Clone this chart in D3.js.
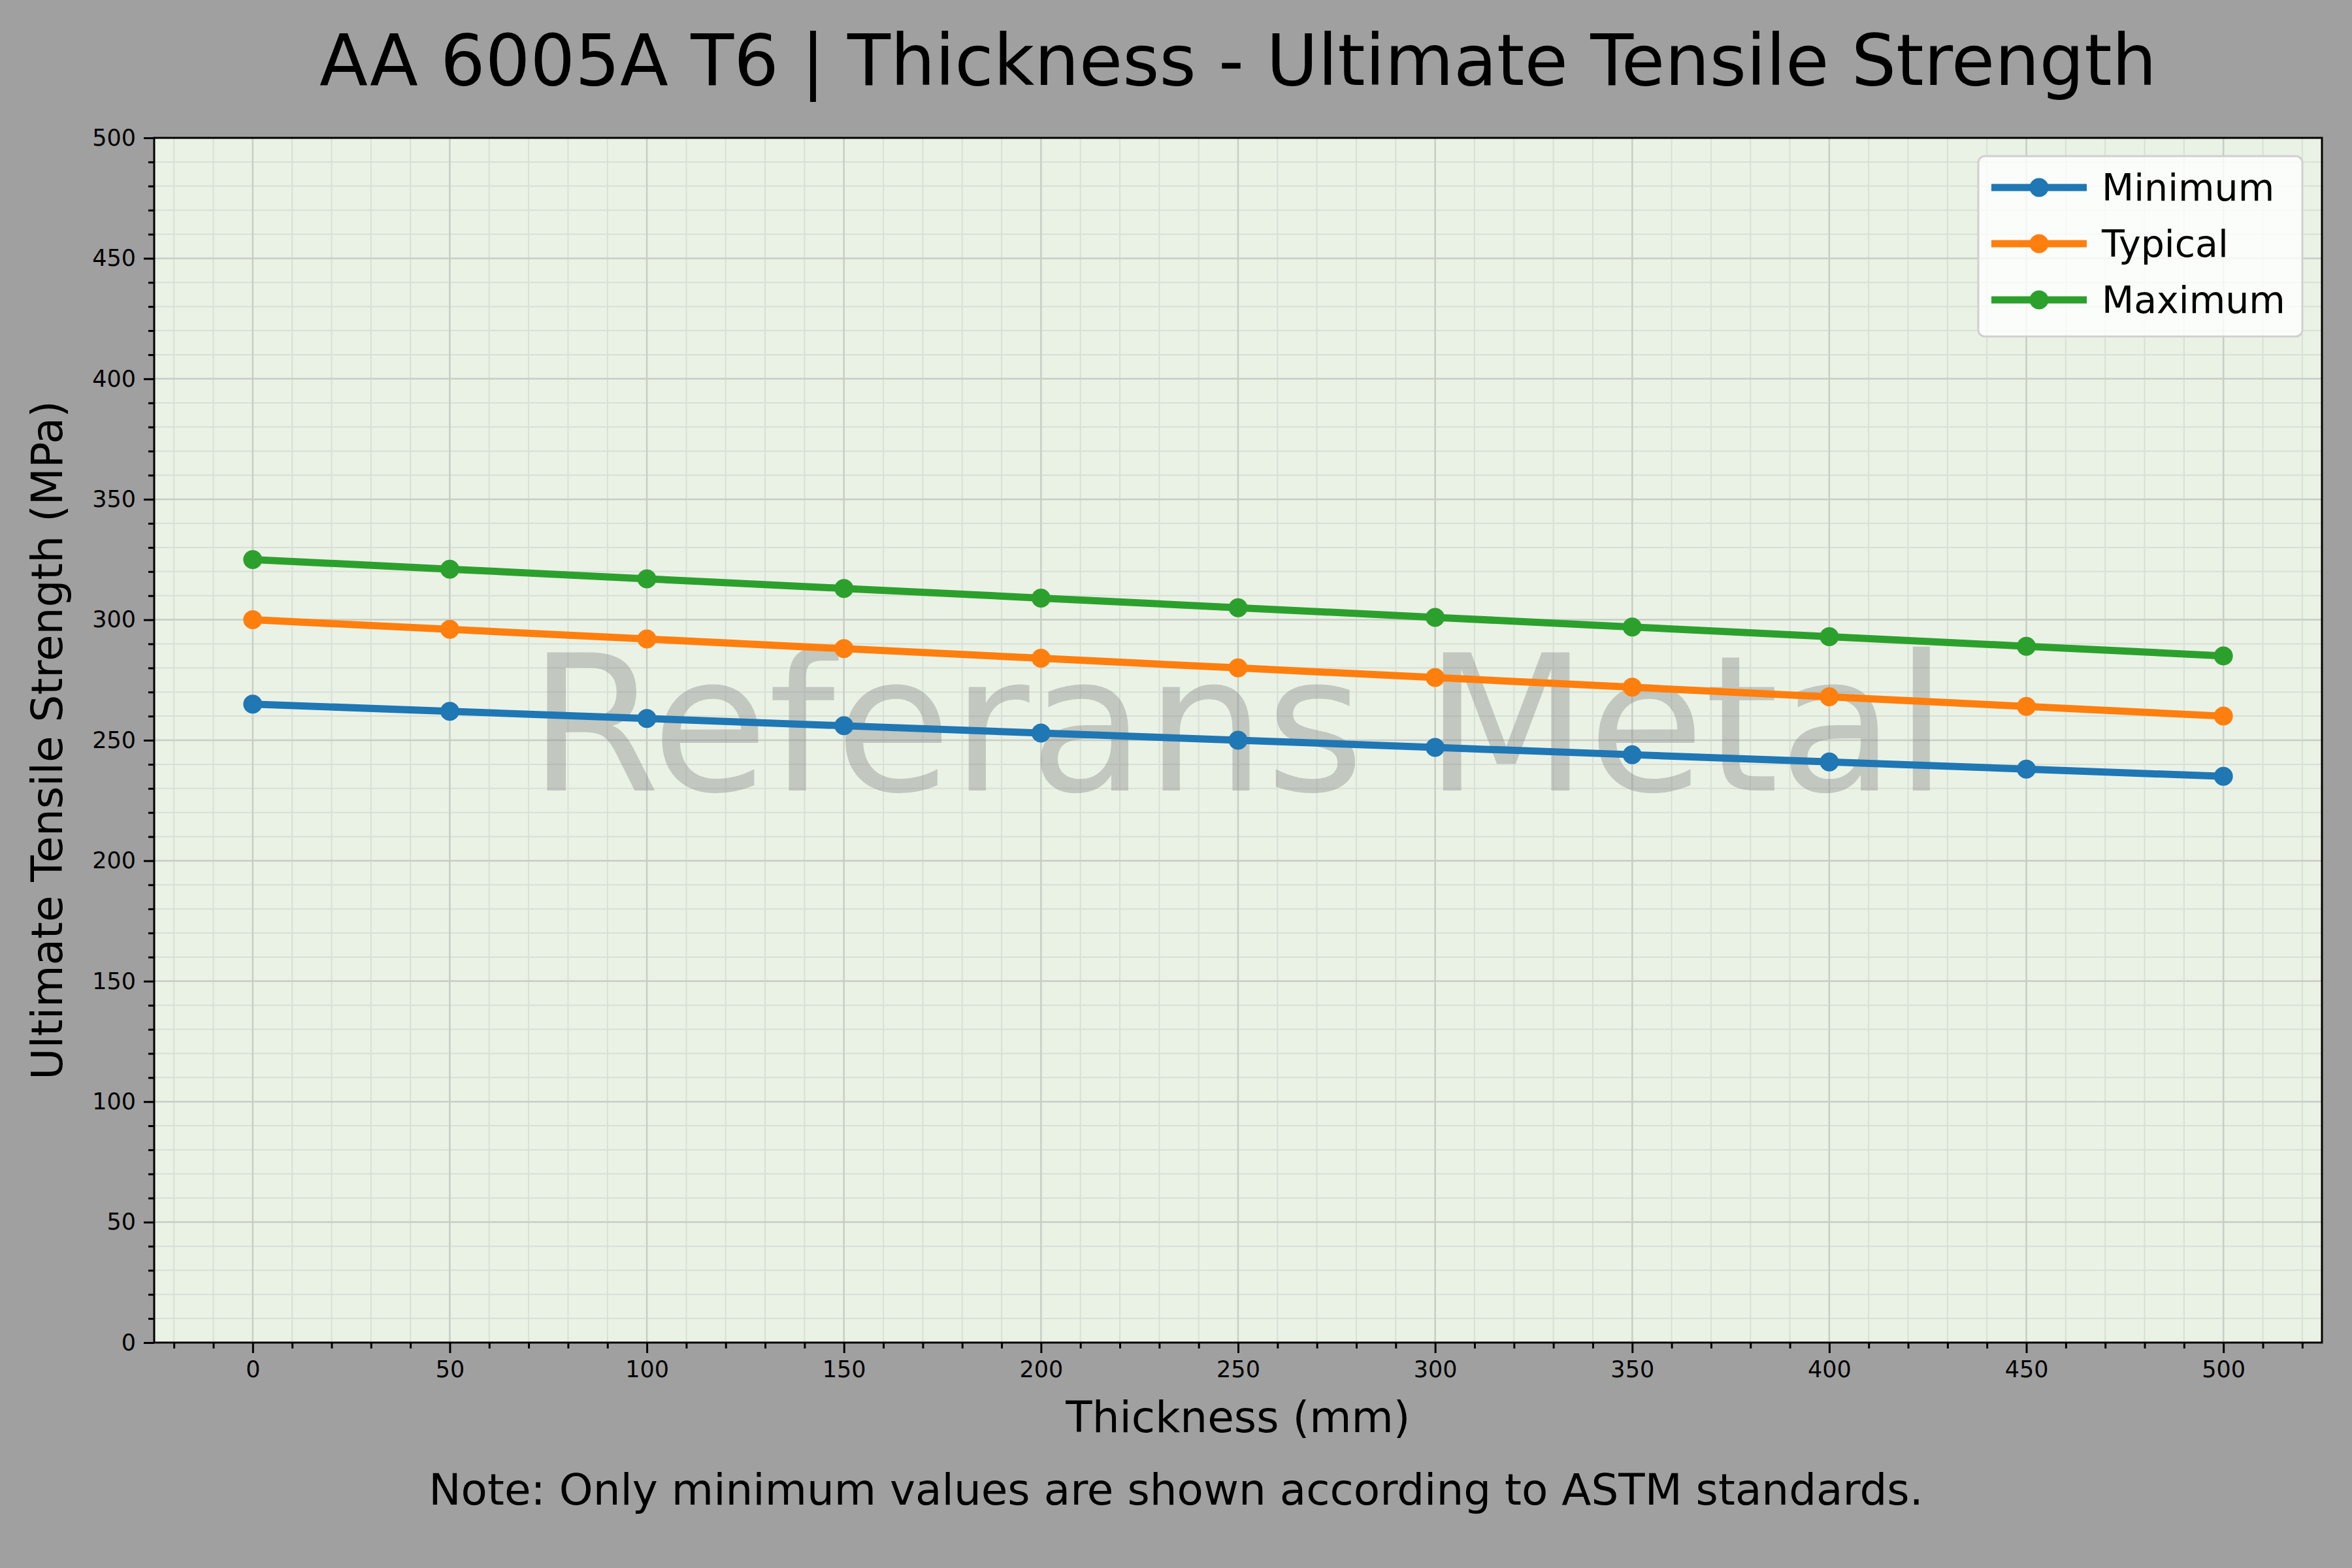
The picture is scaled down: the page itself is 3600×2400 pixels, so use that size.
<!DOCTYPE html>
<html><head><meta charset="utf-8">
<script src="https://cdn.jsdelivr.net/npm/d3@7"></script>
<style>body{margin:0;background:#a0a0a0}</style></head>
<body><svg id="c" width="3600" height="2400"></svg>
<script>
const thickness=[0,50,100,150,200,250,300,350,400,450,500];
const minimum=[265,262,259,256,253,250,247,244,241,238,235];
const typical=[300,296,292,288,284,280,276,272,268,264,260];
const maximum=[325,321,317,313,309,305,301,297,293,289,285];
const seriesNames=["Minimum","Typical","Maximum"];
const colors=["#1f77b4","#ff7f0e","#2ca02c"];
const xTicks=[0,50,100,150,200,250,300,350,400,450,500];
const yTicks=[0,50,100,150,200,250,300,350,400,450,500];
const F="DejaVu Sans";
const svg=d3.select("#c");
svg.append("rect").attr("width",3600).attr("height",2400).attr("fill","#a0a0a0");
const L=236,R=3554,T=211,B=2055;
const x=d3.scaleLinear().domain([-25,525]).range([L,R]);
const y=d3.scaleLinear().domain([0,500]).range([B,T]);
svg.append("rect").attr("x",L).attr("y",T).attr("width",R-L).attr("height",B-T).attr("fill","#eaf2e6");
const minorX=d3.range(-20,530,10), minorY=d3.range(0,501,10);
const g=svg.append("g");
g.selectAll(".mx").data(minorX).join("line").attr("x1",d=>x(d)).attr("x2",d=>x(d)).attr("y1",T).attr("y2",B).attr("stroke","#d8e0d6").attr("stroke-width",2);
g.selectAll(".my").data(minorY).join("line").attr("y1",d=>y(d)).attr("y2",d=>y(d)).attr("x1",L).attr("x2",R).attr("stroke","#d8e0d6").attr("stroke-width",2);
g.selectAll(".Mx").data(xTicks).join("line").attr("x1",d=>x(d)).attr("x2",d=>x(d)).attr("y1",T).attr("y2",B).attr("stroke","#c8cec6").attr("stroke-width",2.5);
g.selectAll(".My").data(yTicks).join("line").attr("y1",d=>y(d)).attr("y2",d=>y(d)).attr("x1",L).attr("x2",R).attr("stroke","#c8cec6").attr("stroke-width",2.5);
svg.append("text").attr("x",(L+R)/2).attr("y",1210).attr("text-anchor","middle").attr("font-family",F).attr("font-size",290).attr("fill","#888").attr("opacity",0.4).text("Referans Metal");
const xa=svg.append("g").attr("transform",`translate(0,${B})`).call(d3.axisBottom(x).tickValues(xTicks).tickSize(16).tickPadding(12));
const xm=svg.append("g").attr("transform",`translate(0,${B})`).call(d3.axisBottom(x).tickValues(minorX.filter(d=>d%50!==0)).tickSize(9).tickFormat(""));
const ya=svg.append("g").attr("transform",`translate(${L},0)`).call(d3.axisLeft(y).tickValues(yTicks).tickSize(16).tickPadding(12));
const ym=svg.append("g").attr("transform",`translate(${L},0)`).call(d3.axisLeft(y).tickValues(minorY.filter(d=>d%50!==0)).tickSize(9).tickFormat(""));
[xa,xm,ya,ym].forEach(a=>{a.selectAll("text").attr("font-family",F).attr("font-size",35).attr("fill","#000");a.selectAll("line").attr("stroke","#000").attr("stroke-width",3);a.select(".domain").remove();});
svg.append("rect").attr("x",L).attr("y",T).attr("width",R-L).attr("height",B-T).attr("fill","none").attr("stroke","#000").attr("stroke-width",3);
const data=[minimum,typical,maximum];
const line=d3.line().x((d,i)=>x(thickness[i])).y(d=>y(d));
data.forEach((s,k)=>{
  svg.append("path").datum(s).attr("d",line).attr("fill","none").attr("stroke",colors[k]).attr("stroke-width",11).attr("stroke-linejoin","round");
  svg.selectAll(null).data(s).join("circle").attr("cx",(d,i)=>x(thickness[i])).attr("cy",d=>y(d)).attr("r",14.5).attr("fill",colors[k]);
});
svg.append("rect").attr("x",3028).attr("y",239).attr("width",496).attr("height",276).attr("rx",10).attr("fill","#fff").attr("fill-opacity",0.8).attr("stroke","#d0d0d0").attr("stroke-width",3);
seriesNames.forEach((n,k)=>{
  const yy=287+k*86;
  svg.append("line").attr("x1",3048).attr("x2",3194).attr("y1",yy).attr("y2",yy).attr("stroke",colors[k]).attr("stroke-width",11);
  svg.append("circle").attr("cx",3121).attr("cy",yy).attr("r",14.5).attr("fill",colors[k]);
  svg.append("text").attr("x",3217).attr("y",yy+20).attr("font-family",F).attr("font-size",57).text(n);
});
svg.append("text").attr("x",(L+R)/2).attr("y",130).attr("text-anchor","middle").attr("font-family",F).attr("font-size",108).text("AA 6005A T6 | Thickness - Ultimate Tensile Strength");
svg.append("text").attr("x",(L+R)/2).attr("y",2192).attr("text-anchor","middle").attr("font-family",F).attr("font-size",66).text("Thickness (mm)");
svg.append("text").attr("transform",`translate(95,${(T+B)/2}) rotate(-90)`).attr("text-anchor","middle").attr("font-family",F).attr("font-size",66).text("Ultimate Tensile Strength (MPa)");
svg.append("text").attr("x",1800).attr("y",2303).attr("text-anchor","middle").attr("font-family",F).attr("font-size",66).text("Note: Only minimum values are shown according to ASTM standards.");
</script></body></html>
